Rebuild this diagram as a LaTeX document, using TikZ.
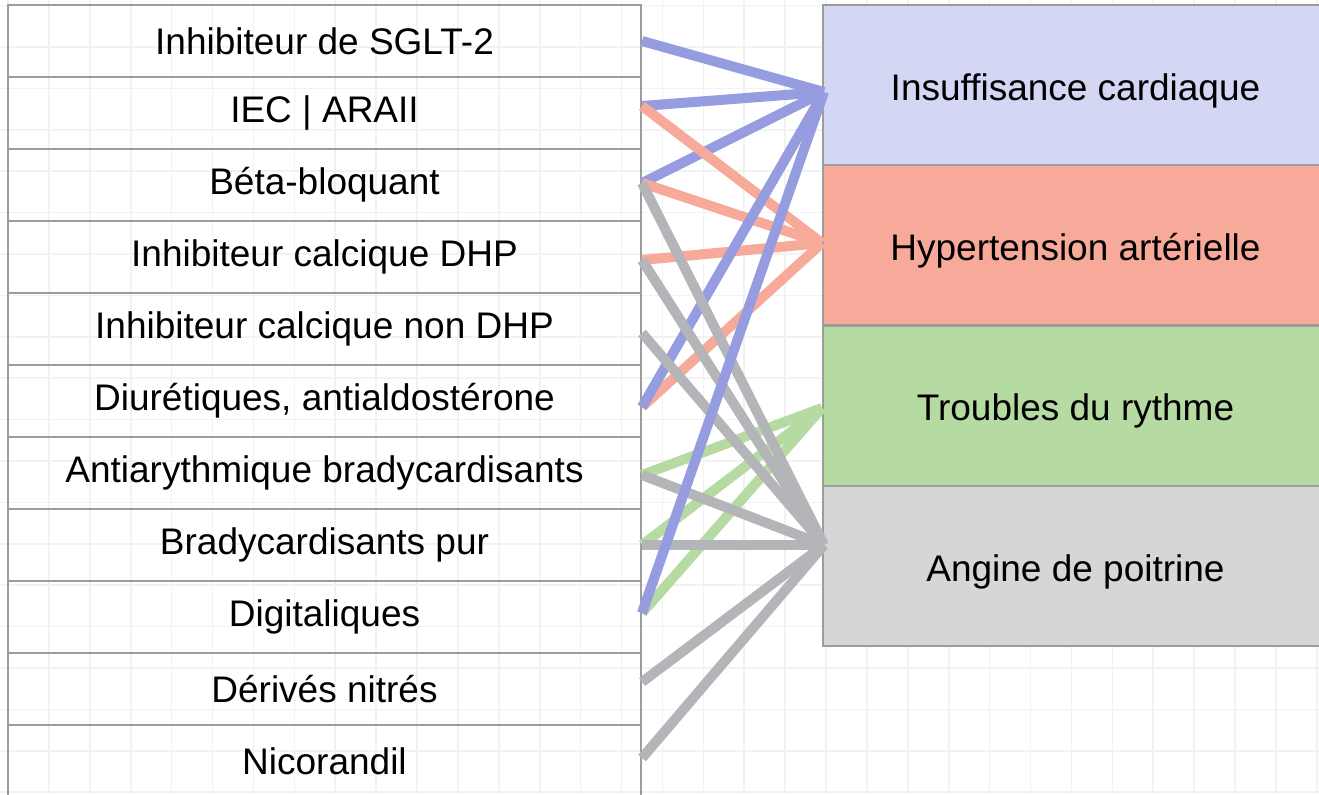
\documentclass[tikz,border=0pt]{standalone}
\usepackage{fontspec}
\setmainfont{Liberation Sans}
\usetikzlibrary{calc}

\definecolor{edge}{HTML}{9C9C9C}
\definecolor{gridgray}{HTML}{F2F2F2}
\definecolor{icfill}{HTML}{D4D7F3}
\definecolor{icline}{HTML}{959CE0}
\definecolor{htafill}{HTML}{F8AA9A}
\definecolor{tdrfill}{HTML}{B5DBA2}
\definecolor{angfill}{HTML}{D6D6D6}
\definecolor{angline}{HTML}{B4B5B8}

\begin{document}
\begin{tikzpicture}[x=0.75pt,y=-0.75pt,
    row/.style={draw=edge, line width=1.5pt, minimum width=474.75pt, minimum height=54pt,
        inner sep=0pt, font=\fontsize{27.75}{33}\selectfont},
    box/.style={row, minimum width=378.75pt, minimum height=120pt, text height=23pt, text depth=0pt},
    link/.style={line width=7.5pt}]

    \useasboundingbox (0,0) rectangle (1319,794);
    \clip (0,0) rectangle (1319,794);

    % grille de fond
    \foreach \i in {0,...,32}
        \draw[gridgray, line width=1.2pt] (8+40.9*\i,0) -- (8+40.9*\i,794);
    \foreach \j in {0,...,19}
        \draw[gridgray, line width=1.2pt] (0,5.5+41.4*\j) -- (1319,5.5+41.4*\j);

    % Médicaments
    \node[row] (m1) at (324.5,41) {Inhibiteur de SGLT-2};
    \node[row] (m2) at (324.5,113) {IEC | ARAII};
    \node[row] (m3) at (324.5,185) {Béta-bloquant};
    \node[row] (m4) at (324.5,257) {Inhibiteur calcique DHP};
    \node[row] (m5) at (324.5,329) {Inhibiteur calcique non DHP};
    \node[row] (m6) at (324.5,401) {Diurétiques, antialdostérone};
    \node[row] (m7) at (324.5,473) {Antiarythmique bradycardisants};
    \node[row] (m8) at (324.5,545) {Bradycardisants pur};
    \node[row] (m9) at (324.5,617) {Digitaliques};
    \node[row] (m10) at (324.5,689) {Dérivés nitrés};
    \node[row] (m11) at (324.5,761) {Nicorandil};

    % Indications
    \node[box, fill=icfill] (ic) at (1075.5,85) {Insuffisance cardiaque};
    \node[box, fill=htafill] (hta) at (1075.5,245) {Hypertension artérielle};
    \node[box, fill=tdrfill] (tdr) at (1075.5,405.5) {Troubles du rythme};
    \node[box, fill=angfill] (ang) at (1075.5,566) {Angine de poitrine};

    % points d'attache
    \coordinate (l1) at (m1.east);
    \coordinate (l2) at ($(m2.east)+(0,-7)$);
    \coordinate (l3) at ($(m3.east)+(0,-2)$);
    \coordinate (l4) at ($(m4.east)+(0,3)$);
    \coordinate (l5) at ($(m5.east)+(0,4)$);
    \coordinate (l6) at ($(m6.east)+(0,6)$);
    \coordinate (l7) at ($(m7.east)+(0,2)$);
    \coordinate (l8) at ($(m8.east)+(0,0)$);
    \coordinate (l9) at ($(m9.east)+(0,-4)$);
    \coordinate (l10) at ($(m10.east)+(0,-7)$);
    \coordinate (l11) at ($(m11.east)+(0,-3)$);
    \coordinate (icp) at ($(ic.west)+(2,7)$);
    \coordinate (htap) at ($(hta.west)+(0,-2)$);
    \coordinate (tdrp) at ($(tdr.west)+(0,2.5)$);
    \coordinate (angp) at ($(ang.west)+(2,-21)$);

    % Liens
    \draw[link, tdrfill] (l7) -- (tdrp);
    \draw[link, tdrfill] (l8) -- (tdrp);
    \draw[link, tdrfill] (l9) -- (tdrp);

    \draw[link, icline] (l1) -- (icp);
    \draw[link, icline] (l2) -- (icp);
    \draw[link, icline] (l3) -- (icp);

    \draw[link, htafill] (l2) -- (htap);
    \draw[link, htafill] (l3) -- (htap);
    \draw[link, htafill] (l4) -- (htap);
    \draw[link, htafill] (l6) -- (htap);

    \draw[link, icline] (l6) -- (icp);

    \draw[link, angline] (l3) -- (angp);
    \draw[link, angline] (l4) -- (angp);
    \draw[link, angline] (l5) -- (angp);
    \draw[link, angline] (l7) -- (angp);
    \draw[link, angline] (l8) -- (angp);
    \draw[link, angline] (l10) -- (angp);
    \draw[link, angline] (l11) -- (angp);

    \draw[link, icline] (l9) -- (icp);

\end{tikzpicture}
\end{document}
